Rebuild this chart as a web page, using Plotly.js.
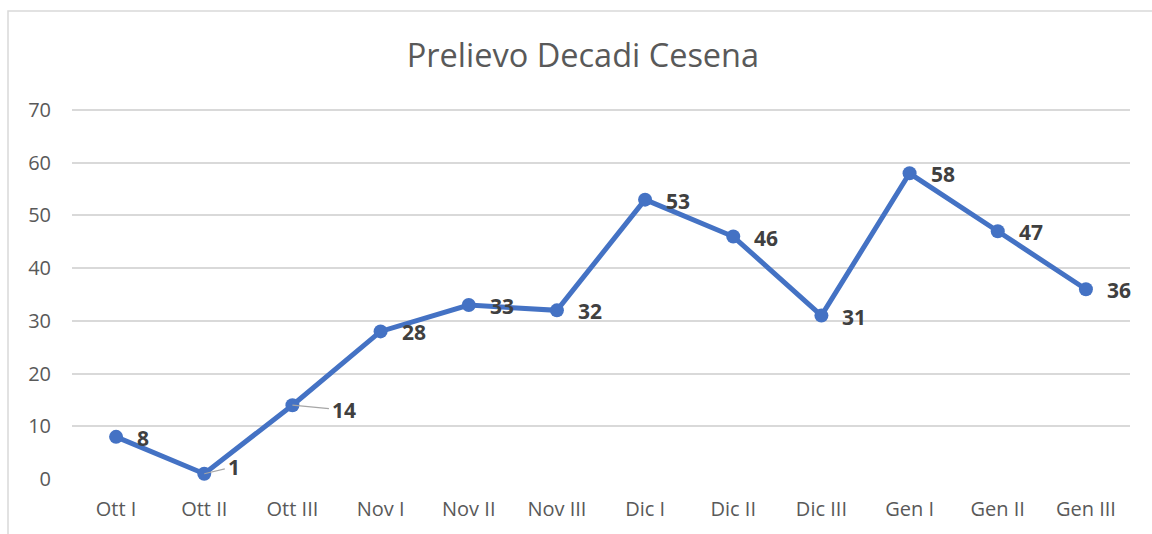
<!DOCTYPE html>
<html>
<head>
<meta charset="utf-8">
<script src="https://cdn.plot.ly/plotly-3.0.1.min.js"></script>
<style>
  html, body { margin: 0; padding: 0; background: #ffffff; }
  #chart { width: 1152px; height: 534px; }
</style>
</head>
<body>
<div id="chart"></div>
<script>
const categories = ["Ott I", "Ott II", "Ott III", "Nov I", "Nov II", "Nov III", "Dic I", "Dic II", "Dic III", "Gen I", "Gen II", "Gen III"];
const values = [8, 1, 14, 28, 33, 32, 53, 46, 31, 58, 47, 36];
const yTicks = [0, 10, 20, 30, 40, 50, 60, 70];
const leaderLabels = ["Ott II", "Ott III"];

const lineColor = "#4472C4";
const textGray = "#595959";
const labelGray = "#404040";
const fontFamily = "'Open Sans', 'Noto Sans', sans-serif";

const trace = {
  type: "scatter",
  mode: "lines+markers",
  x: categories,
  y: values,
  line: { color: lineColor, width: 5 },
  marker: { color: lineColor, size: 14 },
  hoverinfo: "x+y",
  cliponaxis: false
};

const annotations = categories.map((c, i) => {
  const withLeader = leaderLabels.includes(c);
  const font = { family: fontFamily, size: 21, color: labelGray, weight: "bold" };
  if (withLeader) {
    return {
      x: c, y: values[i], xref: "x", yref: "y",
      text: String(values[i]),
      showarrow: true, arrowhead: 0, arrowwidth: 1.2, arrowcolor: "#a6a6a6",
      ax: c === "Ott III" ? 52 : 30, ay: c === "Ott III" ? 5 : -7,
      standoff: 0, startstandoff: 2,
      font: font
    };
  }
  return {
    x: c, y: values[i], xref: "x", yref: "y",
    text: String(values[i]),
    showarrow: false, xanchor: "left", yanchor: "middle",
    xshift: 19, yshift: -1,
    font: font
  };
});

const layout = {
  width: 1152, height: 534,
  margin: { l: 72, r: 22, t: 109, b: 55 },
  paper_bgcolor: "#ffffff",
  plot_bgcolor: "#ffffff",
  showlegend: false,
  title: {
    text: "Prelievo Decadi Cesena",
    x: 0.506, xanchor: "center",
    y: 0.895, yanchor: "middle",
    font: { family: fontFamily, size: 32.5, color: textGray }
  },
  xaxis: {
    type: "category",
    range: [-0.5, 11.5],
    showgrid: false,
    zeroline: false,
    showline: false,
    ticks: "",
    ticklabelstandoff: 16,
    tickfont: { family: fontFamily, size: 20, color: textGray },
    fixedrange: true
  },
  yaxis: {
    range: [0, 70.2],
    tickvals: yTicks,
    showgrid: true,
    gridcolor: "#d9d9d9",
    gridwidth: 1.5,
    zeroline: false,
    showline: false,
    ticks: "",
    ticklabelstandoff: 20,
    tickfont: { family: fontFamily, size: 20, color: textGray },
    fixedrange: true
  },
  annotations: annotations,
  shapes: [
    {
      type: "rect", xref: "paper", yref: "paper",
      x0: -64 / 1058, x1: 1.2, y0: -0.3, y1: 1 + 98 / 370,
      line: { color: "#d9d9d9", width: 1.5 }, fillcolor: "rgba(0,0,0,0)",
      layer: "below"
    }
  ]
};

Plotly.newPlot("chart", [trace], layout, { displayModeBar: false, responsive: false });
</script>
</body>
</html>
